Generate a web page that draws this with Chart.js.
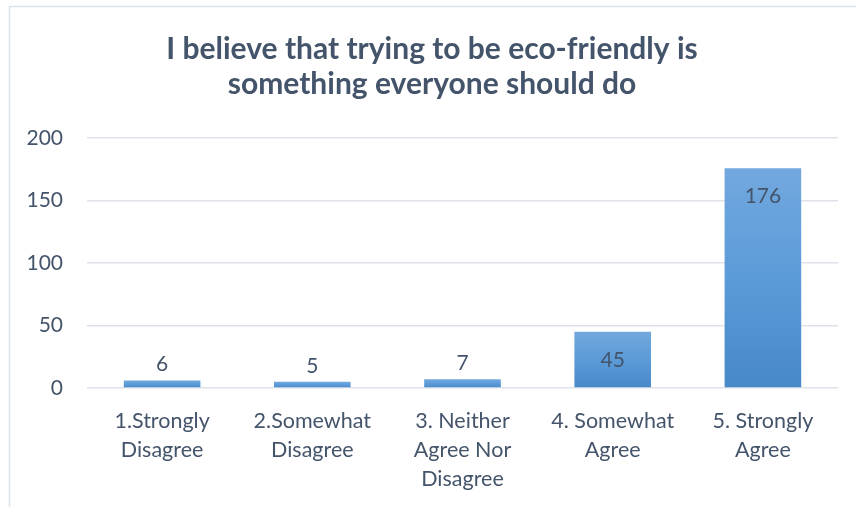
<!DOCTYPE html>
<html>
<head>
<meta charset="utf-8">
<title>Eco-friendly survey</title>
<script src="https://cdn.jsdelivr.net/npm/chart.js@4.4.0/dist/chart.umd.min.js"></script>
<style>
  html, body { margin: 0; padding: 0; background: #fff; }
  #wrap { width: 856px; height: 507px; }
</style>
</head>
<body>
<div id="wrap"><canvas id="bar-chart" width="856" height="507"></canvas></div>
<script>
var chartTitle = ["I believe that trying to be eco-friendly is", "something everyone should do"];
var categories = [
  ["1.Strongly", "Disagree"],
  ["2.Somewhat", "Disagree"],
  ["3. Neither", "Agree Nor", "Disagree"],
  ["4. Somewhat", "Agree"],
  ["5. Strongly", "Agree"]
];
var responses = [6, 5, 7, 45, 176];
var yTicks = [0, 50, 100, 150, 200];

var textColor = "#44546A";
var gridColor = "#dfe3e9";

Chart.defaults.font.family = "Lato";

// light-to-dark blue fill, one gradient per bar
function barFill(ctx) {
  var chart = ctx.chart;
  if (!chart.chartArea || !chart.scales.y) return "#5b9bd5";
  var y = chart.scales.y;
  var top = y.getPixelForValue(ctx.parsed ? ctx.parsed.y : responses[ctx.dataIndex]);
  var bottom = y.getPixelForValue(0);
  if (!isFinite(top) || bottom - top < 1) return "#5b9bd5";
  var g = chart.ctx.createLinearGradient(0, top, 0, bottom);
  g.addColorStop(0, "#72a8de");
  g.addColorStop(0.5, "#5b9bd8");
  g.addColorStop(1, "#4788c8");
  return g;
}

// thin frame along the top and left edges
var framePlugin = {
  id: "frame",
  beforeDraw: function (chart) {
    var c = chart.ctx;
    c.save();
    c.fillStyle = "#fff";
    c.fillRect(0, 0, chart.width, chart.height);
    c.strokeStyle = "#dde3ea";
    c.lineWidth = 1.5;
    c.beginPath();
    c.moveTo(9.5, chart.height);
    c.lineTo(9.5, 6.5);
    c.lineTo(chart.width, 6.5);
    c.stroke();
    c.restore();
  }
};

// value labels: inside the top of tall bars, above short ones
var valueLabels = {
  id: "valueLabels",
  afterDatasetsDraw: function (chart) {
    var c = chart.ctx;
    var meta = chart.getDatasetMeta(0);
    c.save();
    c.font = "21px Lato";
    c.fillStyle = textColor;
    c.textAlign = "center";
    c.textBaseline = "middle";
    meta.data.forEach(function (bar, i) {
      var h = bar.base - bar.y;
      var ty = h > 40 ? bar.y + 28 : bar.y - 16;
      c.fillText(String(responses[i]), bar.x, ty);
    });
    c.restore();
  }
};

new Chart(document.getElementById("bar-chart"), {
  type: "bar",
  data: {
    labels: categories,
    datasets: [{
      data: responses,
      backgroundColor: barFill,
      borderWidth: 0,
      barPercentage: 0.51,
      categoryPercentage: 1.0
    }]
  },
  options: {
    responsive: false,
    animation: false,
    layout: { padding: { left: 26, right: 18, top: 0, bottom: 0 } },
    plugins: {
      legend: { display: false },
      tooltip: { enabled: false },
      title: {
        display: true,
        text: chartTitle,
        color: textColor,
        font: { size: 30, weight: "bold", lineHeight: 1.17 },
        padding: { top: 32, bottom: 36 }
      }
    },
    scales: {
      x: {
        grid: { display: false, drawTicks: false },
        border: { display: false },
        ticks: {
          color: textColor,
          font: { size: 21.5, lineHeight: 1.36 },
          padding: 18,
          maxRotation: 0,
          autoSkip: false
        },
        afterFit: function (scale) { scale.height = 119; }
      },
      y: {
        min: 0,
        max: 200,
        afterBuildTicks: function (scale) {
          scale.ticks = yTicks.map(function (v) { return { value: v }; });
        },
        grid: { color: gridColor, lineWidth: 1.5, drawTicks: false },
        border: { display: false },
        ticks: {
          color: textColor,
          font: { size: 21 },
          padding: 24
        },
        afterFit: function (scale) { scale.width = 61; }
      }
    }
  },
  plugins: [framePlugin, valueLabels]
});
</script>
</body>
</html>
